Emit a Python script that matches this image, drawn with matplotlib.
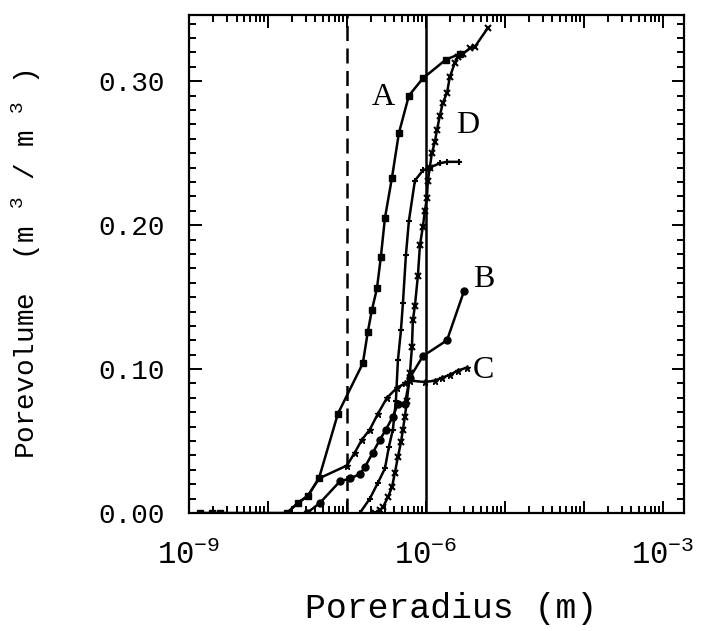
import matplotlib
matplotlib.use("Agg")
import matplotlib.pyplot as plt
from matplotlib.ticker import LogLocator, MultipleLocator, NullFormatter, FormatStrFormatter

plt.rcParams['font.family'] = ['Liberation Mono', 'DejaVu Sans Mono']
plt.rcParams['mathtext.fontset'] = 'custom'
plt.rcParams['mathtext.rm'] = 'Liberation Mono'
plt.rcParams['mathtext.it'] = 'Liberation Mono'
plt.rcParams['mathtext.default'] = 'rm'

# pore radius (m) and cumulative pore volume (m3/m3)
a_r = [1.38e-9, 1.95e-9, 2.47e-9, 1.74e-8, 2.40e-8, 3.21e-8, 4.42e-8, 7.69e-8, 1.59e-7, 1.84e-7,
       2.07e-7, 2.40e-7, 2.69e-7, 3.03e-7, 3.72e-7, 4.55e-7, 6.09e-7, 9.16e-7, 1.79e-6, 2.69e-6]
a_v = [0, 0, 0, 0, 0.007, 0.012, 0.024, 0.069, 0.104, 0.126,
       0.141, 0.156, 0.178, 0.205, 0.233, 0.264, 0.290, 0.302, 0.315, 0.319]

b_r = [3.12e-8, 4.55e-8, 8.15e-8, 1.09e-7, 1.46e-7, 1.69e-7, 2.13e-7, 2.62e-7, 3.12e-7, 3.82e-7,
       4.42e-7, 5.42e-7, 6.27e-7, 9.16e-7, 1.85e-6, 3.03e-6]
b_v = [0, 0.007, 0.022, 0.024, 0.027, 0.032, 0.042, 0.051, 0.058, 0.067,
       0.076, 0.076, 0.094, 0.109, 0.120, 0.154]

c_r = [1.74e-8, 2.40e-8, 3.21e-8, 4.42e-8, 1.00e-7, 1.26e-7, 1.55e-7, 1.95e-7, 2.47e-7, 3.21e-7,
       4.30e-7, 5.42e-7, 6.27e-7, 9.71e-7, 1.30e-6, 1.60e-6, 2.01e-6, 2.54e-6, 3.30e-6]
c_v = [0, 0.007, 0.012, 0.024, 0.033, 0.042, 0.051, 0.058, 0.069, 0.080,
       0.087, 0.090, 0.092, 0.091, 0.092, 0.094, 0.096, 0.099, 0.101]

p_r = [1.46e-7, 1.95e-7, 2.47e-7, 3.03e-7, 3.40e-7, 3.82e-7, 4.17e-7, 4.42e-7, 4.83e-7, 5.12e-7,
       5.58e-7, 6.09e-7, 7.26e-7, 9.16e-7, 1.12e-6, 1.50e-6, 1.85e-6, 2.62e-6]
p_v = [0, 0.010, 0.021, 0.031, 0.046, 0.058, 0.078, 0.106, 0.127, 0.146,
       0.179, 0.203, 0.231, 0.238, 0.240, 0.243, 0.244, 0.244]

d_r = [2.26e-7, 2.62e-7, 2.86e-7, 3.30e-7, 3.72e-7, 4.05e-7, 4.42e-7, 4.83e-7, 5.12e-7, 5.42e-7,
       5.75e-7, 6.27e-7, 6.65e-7, 6.84e-7, 7.26e-7, 7.92e-7, 8.40e-7, 9.16e-7, 9.71e-7, 1.03e-6,
       1.06e-6, 1.12e-6, 1.19e-6, 1.30e-6, 1.38e-6, 1.50e-6, 1.64e-6, 1.85e-6, 2.01e-6, 2.33e-6,
       2.54e-6, 2.94e-6, 3.61e-6, 4.17e-6, 6.09e-6]
d_v = [0, 0.002, 0.004, 0.011, 0.018, 0.028, 0.039, 0.049, 0.058, 0.067,
       0.078, 0.097, 0.115, 0.134, 0.144, 0.165, 0.186, 0.199, 0.210, 0.219,
       0.231, 0.240, 0.250, 0.258, 0.266, 0.276, 0.285, 0.292, 0.303, 0.313,
       0.317, 0.319, 0.323, 0.324, 0.337]

labels = ['A', 'B', 'C', 'D']
label_pos = [(2.86e-7, 0.289), (5.4e-6, 0.162), (5.4e-6, 0.099), (3.4e-6, 0.269)]

x_major = [1e-9, 1e-8, 1e-7, 1e-6, 1e-5, 1e-4, 1e-3]
x_ticklabels = [r'$10^{-9}$', '', '', r'$10^{-6}$', '', '', r'$10^{-3}$']

fig = plt.figure(figsize=(7.12, 6.31), dpi=100)
ax = fig.add_axes([0.2654, 0.187, 0.6952, 0.7892])

kw = dict(color='black', lw=1.8, ms=5)
ax.plot(a_r, a_v, marker='s', **kw)
ax.plot(b_r, b_v, marker='o', **kw)
ax.plot(c_r, c_v, marker='*', **kw)
ax.plot(p_r, p_v, marker='+', mew=1.5, **kw)
ax.plot(d_r, d_v, marker='x', mew=1.5, **kw)

ax.axvline(1e-7, color='black', lw=1.8, ls=(0, (6, 3)))
ax.axvline(1e-6, color='black', lw=1.8)

for lab, (lx, ly) in zip(labels, label_pos):
    ax.text(lx, ly, lab, fontsize=23, ha='center', va='center', family='Liberation Serif')

ax.set_xscale('log')
ax.set_xlim(1e-9, 1.85e-3)
ax.set_ylim(0, 0.346)

ax.set_xticks(x_major, labels=x_ticklabels)
ax.xaxis.set_minor_locator(LogLocator(base=10, subs=range(2, 10), numticks=50))
ax.xaxis.set_minor_formatter(NullFormatter())

ax.yaxis.set_major_locator(MultipleLocator(0.1))
ax.yaxis.set_minor_locator(MultipleLocator(0.01))
ax.yaxis.set_major_formatter(FormatStrFormatter('%.2f'))

ax.tick_params(which='both', direction='in', top=True, right=True, width=1.4)
ax.tick_params(which='major', length=9)
ax.tick_params(which='minor', length=5)
ax.tick_params(axis='x', which='major', labelsize=22, pad=20)
ax.tick_params(axis='y', which='major', labelsize=20, pad=17)
for sp in ax.spines.values():
    sp.set_linewidth(1.6)

ax.set_xlabel('Poreradius (m)', fontsize=25)
ax.xaxis.set_label_coords(0.53, -0.158)
ax.set_ylabel('Porevolume  (m $^3$ / m $^3$ )', fontsize=20)
ax.yaxis.set_label_coords(-0.295, 0.5)

fig.savefig('out.png', dpi=100)
